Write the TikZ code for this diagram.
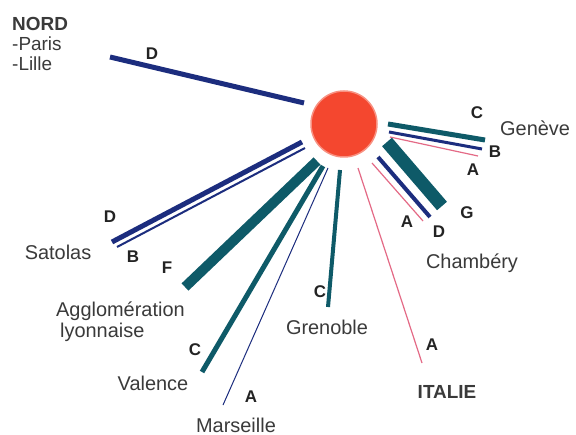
\documentclass[tikz,border=0pt]{standalone}
\usepackage{fontspec}
\setmainfont{Liberation Sans}
\definecolor{lineNavy}{HTML}{1C2D7E}
\definecolor{lineTeal}{HTML}{0E5A68}
\definecolor{linePink}{HTML}{E46A86}
\definecolor{hubRed}{HTML}{F4472F}
\definecolor{txtGray}{HTML}{3A3A3A}

\begin{document}
\begin{tikzpicture}[x=1bp, y=-1bp,
    navy/.style={draw=lineNavy},
    teal/.style={draw=lineTeal},
    pink/.style={draw=linePink, line width=1.2bp},
    city/.style={inner sep=0pt, text=txtGray, font=\fontsize{20}{21}\selectfont},
    grade/.style={inner sep=0pt, text=txtGray!60!black, font=\fontsize{17}{18}\selectfont\bfseries}]
    \useasboundingbox[fill=white] (0,0) rectangle (576,435);

    % centre : le noeud
    \node[circle, fill=hubRed, draw=hubRed!60!white, line width=1.5bp, minimum size=66bp, inner sep=0pt] (hub) at (344,124) {};

    % Nord
    \coordinate (nordIn) at (304,103);
    \coordinate (nordOut) at (110,57);
    \draw[navy, line width=5bp] (nordIn) -- (nordOut);
    \node[city, anchor=north west, align=left, font=\fontsize{19}{20}\selectfont] (nord) at (12,17) {\textbf{NORD}\\-Paris\\-Lille};
    \node[grade] (nordD) at (152,54) {D};

    % Geneve
    \coordinate (genCIn) at (388,124);  \coordinate (genCOut) at (485,140);
    \coordinate (genBIn) at (389,132);  \coordinate (genBOut) at (482,149);
    \coordinate (genAIn) at (390,137);  \coordinate (genAOut) at (478,156);
    \draw[teal, line width=5bp] (genCIn) -- (genCOut);
    \draw[navy, line width=3bp] (genBIn) -- (genBOut);
    \draw[pink] (genAIn) -- (genAOut);
    \node[city, anchor=west] (geneve) at (500,128) {Genève};
    \node[grade] (genC) at (477,113) {C};
    \node[grade] (genB) at (495,152) {B};
    \node[grade] (genA) at (473,170) {A};

    % Chambery
    \coordinate (chaGIn) at (387,142);  \coordinate (chaGOut) at (442,206);
    \coordinate (chaDIn) at (378,157);  \coordinate (chaDOut) at (430,217);
    \coordinate (chaAIn) at (372,163);  \coordinate (chaAOut) at (423,221);
    \draw[teal, line width=13bp] (chaGIn) -- (chaGOut);
    \draw[navy, line width=4bp] (chaDIn) -- (chaDOut);
    \draw[pink] (chaAIn) -- (chaAOut);
    \node[city] (chambery) at (472,263) {Chambéry};
    \node[grade] (chaG) at (467,213) {G};
    \node[grade] (chaD) at (439,232) {D};
    \node[grade] (chaA) at (407,222) {A};

    % Italie
    \coordinate (itaIn) at (358,168);
    \coordinate (itaOut) at (422,363);
    \draw[pink] (itaIn) -- (itaOut);
    \node[city, font=\fontsize{19}{20}\selectfont\bfseries] (italie) at (447,392) {ITALIE};
    \node[grade] (itaA) at (432,345) {A};

    % Grenoble
    \coordinate (greIn) at (340,170);
    \coordinate (greOut) at (328,307);
    \draw[teal, line width=4bp] (greIn) -- (greOut);
    \node[city] (grenoble) at (327,327) {Grenoble};
    \node[grade] (greC) at (320,292) {C};

    % Marseille
    \coordinate (marIn) at (328,168);
    \coordinate (marOut) at (223,405);
    \draw[navy, line width=1bp] (marIn) -- (marOut);
    \node[city] (marseille) at (236,425) {Marseille};
    \node[grade] (marA) at (251,397) {A};

    % Valence
    \coordinate (valIn) at (323,166);
    \coordinate (valOut) at (202,372);
    \draw[teal, line width=5bp] (valIn) -- (valOut);
    \node[city] (valence) at (153,383) {Valence};
    \node[grade] (valC) at (195,350) {C};

    % Agglomeration lyonnaise
    \coordinate (aggIn) at (317,161);
    \coordinate (aggOut) at (185,287);
    \draw[teal, line width=10bp] (aggIn) -- (aggOut);
    \node[city, anchor=north west, align=left] (agglo) at (56,302) {Agglomération\\\hspace{4bp}lyonnaise};
    \node[grade] (aggF) at (167,268) {F};

    % Satolas
    \coordinate (satDIn) at (302,142);  \coordinate (satDOut) at (112,242);
    \coordinate (satBIn) at (305,148);  \coordinate (satBOut) at (117,247);
    \draw[navy, line width=5bp] (satDIn) -- (satDOut);
    \draw[navy, line width=2bp] (satBIn) -- (satBOut);
    \node[city] (satolas) at (58,252) {Satolas};
    \node[grade] (satD) at (110,217) {D};
    \node[grade] (satB) at (133,257) {B};
\end{tikzpicture}
\end{document}
